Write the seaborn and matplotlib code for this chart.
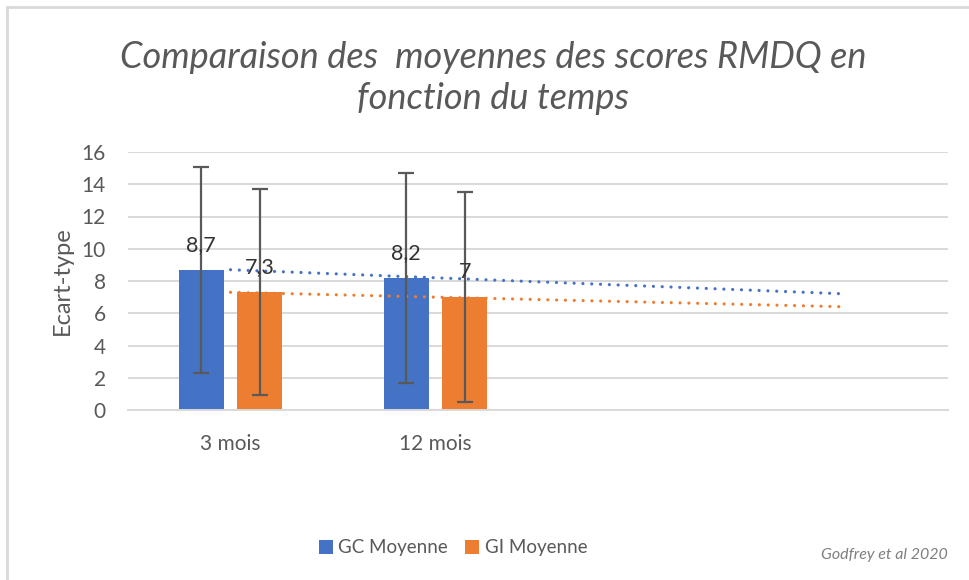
import numpy as np
import pandas as pd
import matplotlib
matplotlib.use("Agg")
import matplotlib.pyplot as plt
import seaborn as sns
from matplotlib.patches import Patch
from matplotlib.lines import Line2D

# ---- data ----
categories = ["3 mois", "12 mois"]
series_names = ["GC Moyenne", "GI Moyenne"]
gc_means = [8.7, 8.2]
gi_means = [7.3, 7.0]
gc_sd = [6.4, 6.5]
gi_sd = [6.4, 6.5]
gc_labels = ["8,7", "8,2"]
gi_labels = ["7,3", "7"]
yticks = [0, 2, 4, 6, 8, 10, 12, 14, 16]
title = "Comparaison des  moyennes des scores RMDQ en\nfonction du temps"
ylabel = "Ecart-type"
source = "Godfrey et al 2020"
n_slots = 4  # the Excel chart keeps two empty category slots

colors = {"GC Moyenne": "#4472C4", "GI Moyenne": "#ED7D31"}
text_gray = "#595959"
grid_gray = "#D9D9D9"

df = pd.DataFrame({
    "cat": categories * 2,
    "serie": [series_names[0]] * 2 + [series_names[1]] * 2,
    "val": gc_means + gi_means,
})

sns.set_theme(style="white")
plt.rcParams["font.family"] = ["Lato", "DejaVu Sans"]

fig = plt.figure(figsize=(9.69, 5.80), dpi=100)
ax = fig.add_axes([128 / 969, 1 - 410 / 580, 820 / 969, 258 / 580])

sns.barplot(data=df, x="cat", y="val", hue="serie", order=categories,
            hue_order=series_names, palette=colors, width=0.57, gap=0.23,
            errorbar=None, legend=False, ax=ax, saturation=1, linewidth=0)

ax.set_xlim(-0.5, n_slots - 0.5)
ax.set_ylim(0, 16)
ax.set_yticks(yticks)
ax.set_yticklabels([str(t) for t in yticks])

# error bars and data labels, positioned from the drawn bars
bars = ax.patches
sds = gc_sd + gi_sd
labels = gc_labels + gi_labels
for b, sd, lab in zip(bars, sds, labels):
    cx = b.get_x() + b.get_width() / 2
    h = b.get_height()
    ax.errorbar(cx, h, yerr=sd, fmt="none", ecolor="#595959", elinewidth=1.6,
                capsize=5.5, capthick=1.6, zorder=4)
    t = ax.annotate(lab, (cx, h), xytext=(0, 18), textcoords="offset points",
                    ha="center", va="center", fontsize=15.5, color="#333333")
    t.set_zorder(10)

# linear trendlines (Excel style, extended to the last slot)
xs = np.arange(len(categories))
xfit = np.array([0, n_slots - 1])
for name, vals in zip(series_names, [gc_means, gi_means]):
    slope, inter = np.polyfit(xs, vals, 1)
    ax.plot(xfit, inter + slope * xfit, color=colors[name], lw=2.3,
            linestyle=(0, (0.01, 2.75)), dash_capstyle="round", zorder=3)

# styling
ax.grid(axis="y", color=grid_gray, lw=1.4)
ax.set_axisbelow(True)
for s in ["top", "right", "left"]:
    ax.spines[s].set_visible(False)
ax.spines["bottom"].set_color(grid_gray)
ax.spines["bottom"].set_linewidth(1.4)
ax.tick_params(axis="both", length=0, labelsize=15, labelcolor=text_gray)
ax.tick_params(axis="x", pad=17)
ax.tick_params(axis="y", pad=16)
ax.set_xlabel("")
ax.set_ylabel(ylabel, fontsize=17, color=text_gray, labelpad=6)

fig.text(493 / 969, 1 - 78 / 580, title, ha="center", va="center",
         fontsize=26, style="italic", color=text_gray, linespacing=1.33)

handles = [Patch(facecolor=colors[n], edgecolor="none") for n in series_names]
fig.legend(handles, series_names, loc="center", bbox_to_anchor=(453 / 969, 1 - 548 / 580),
           ncol=2, frameon=False, fontsize=13.5, labelcolor=text_gray,
           handlelength=0.75, handleheight=0.75, handletextpad=0.3, columnspacing=0.9)

fig.text(948 / 969, 1 - 555 / 580, source, ha="right", va="center",
         fontsize=11.5, style="italic", color="#7F7F7F")

# outer chart border (left and top visible in the reference)
fig.add_artist(Line2D([7 / 969, 7 / 969], [0, 1 - 7 / 580], color=grid_gray, lw=2,
                      transform=fig.transFigure))
fig.add_artist(Line2D([7 / 969, 1], [1 - 7 / 580, 1 - 7 / 580], color=grid_gray, lw=2,
                      transform=fig.transFigure))

fig.savefig("out.png", dpi=100, facecolor="white")
